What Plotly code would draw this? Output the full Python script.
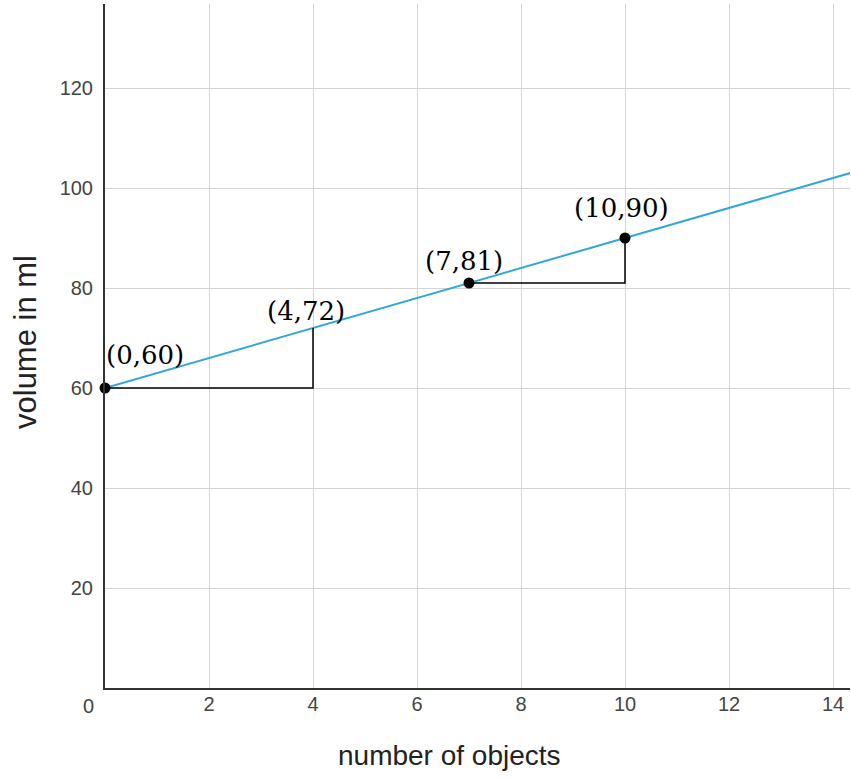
import plotly.graph_objects as go

# Data
line_x = [0, 15]
line_y = [60, 105]
point_x = [0, 7, 10]
point_y = [60, 81, 90]
label_x = [0, 4, 7, 10]
label_y = [60, 72, 81, 90]
label_text = ["(0,60)", "(4,72)", "(7,81)", "(10,90)"]
# Slope triangles (run then rise)
tri1_x = [0, 4, 4]
tri1_y = [60, 60, 72]
tri2_x = [7, 10, 10]
tri2_y = [81, 81, 90]
x_ticks = [2, 4, 6, 8, 10, 12, 14]
y_ticks = [20, 40, 60, 80, 100, 120]

fig = go.Figure()
fig.add_trace(go.Scatter(x=line_x, y=line_y, mode="lines",
                         line=dict(color="#33a6d6", width=2)))
fig.add_trace(go.Scatter(x=tri1_x, y=tri1_y, mode="lines",
                         line=dict(color="black", width=1.5)))
fig.add_trace(go.Scatter(x=tri2_x, y=tri2_y, mode="lines",
                         line=dict(color="black", width=1.5)))
fig.add_trace(go.Scatter(x=point_x, y=point_y, mode="markers",
                         marker=dict(color="black", size=11), cliponaxis=False))

# label offsets (pixels) relative to each point
offs = [(40, 33), (-7, 17), (-5, 22), (-4, 30)]
for x, y, t, (dx, dy) in zip(label_x, label_y, label_text, offs):
    fig.add_annotation(x=x, y=y, text=t, showarrow=False, xshift=dx, yshift=dy,
                       xanchor="center", yanchor="middle",
                       font=dict(family="DejaVu Serif", size=26, color="black"))

fig.add_annotation(xref="paper", yref="paper", x=0, y=0, text="0", showarrow=False,
                   xanchor="center", yanchor="middle",
                   xshift=-17, yshift=-18, font=dict(family="Liberation Sans", size=20, color="#444"))
fig.add_annotation(xref="paper", yref="paper", x=0, y=(688 - 342) / 684, text="volume in ml",
                   showarrow=False, textangle=-90, xanchor="center", yanchor="middle",
                   xshift=-79, font=dict(family="Liberation Sans", size=31, color="#222"))
fig.add_annotation(xref="paper", yref="paper", x=(449 - 105) / 745, y=0, text="number of objects",
                   showarrow=False, xanchor="center", yanchor="middle",
                   yshift=-67, font=dict(family="Liberation Sans", size=28, color="#222"))

fig.update_layout(
    width=851, height=778,
    margin=dict(l=105, r=1, t=4, b=90),
    paper_bgcolor="white", plot_bgcolor="white",
    showlegend=False,
    xaxis=dict(range=[0, 745 / 52], tickvals=x_ticks, showgrid=True, gridcolor="#d3d3d3",
               gridwidth=1, zeroline=False, showline=True, linecolor="#333", linewidth=2,
               tickfont=dict(family="Liberation Sans", size=20, color="#444"), ticks="",
               ticklabelstandoff=-3),
    yaxis=dict(range=[0, 684 / 5], tickvals=y_ticks, showgrid=True, gridcolor="#d3d3d3",
               gridwidth=1, zeroline=False, showline=True, linecolor="#333", linewidth=2,
               tickfont=dict(family="Liberation Sans", size=20, color="#444"), ticks="",
               ticklabelstandoff=6),
)
fig.write_html("out.html", post_script="document.body.style.margin='0';",
               config={"displayModeBar": False})
